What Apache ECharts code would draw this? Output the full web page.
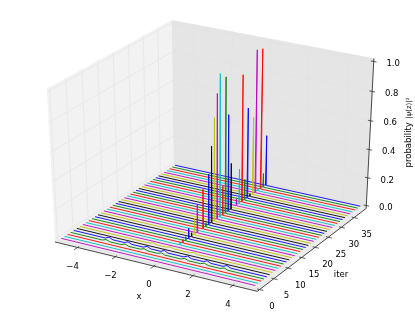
<!DOCTYPE html>
<html><head><meta charset="utf-8">
<style>html,body{margin:0;padding:0;background:#fff}#c{width:415px;height:313px}</style>
<script src="https://cdn.jsdelivr.net/npm/echarts@6/dist/echarts.min.js"></script>
</head><body><div id="c"></div>
<script>
// ---- data ----
const iters = [0,1,2,3,4,5,6,7,8,9,10,11,12,13,14,15,16,17,18,19,20,21,22,23,24,25,26,27,28,29,30,31,32,33,34,35,36,37,38,39];
const peakHeights = [0,0,0,0,0,0,0,0.01,0.02,0.025,0.03,0.075,0.03,0.12,0.2,0.01,0.28,0.03,0.36,0.54,0.72,0.87,0.99,0.21,0.945,0.68,0.33,0.01,0.05,0.25,0.89,0.15,0.64,0.02,0.55,1.0,0.02,0.985,0.1,0.36];
const bumpX = [-3.3,-3.1,-2.9,-2.3,-2.1,-1.9,-1.3,-1.1,-0.9,-0.4,-0.2,0.8,1.0,1.2,1.8,2.0,2.2,2.8,3.0,3.2];
const bumpsIter3 = [0,0.01,0,0,0.01,0,0,0.01,0,0,0.01,0,0.01,0,0,0.01,0,0,0.01,0];
const bumpsIter4 = [0,0.012,0,0,0.012,0,0,0.012,0,0,0.012,0,0.012,0,0,0.012,0,0,0.012,0];
const bumpsIter6 = [0,0,0,0,0,0,0,0.008,0,0,0.008,0,0.008,0,0,0,0,0,0,0];
const xTicks = [-4,-2,0,2,4];
const iterTicks = [0,5,10,15,20,25,30,35];
const probTicks = [0,0.2,0.4,0.6,0.8,1.0];
const lineColors = ['#0000ff','#008000','#ff0000','#00bfbf','#bf00bf','#bfbf00','#000000'];
const xEnds = [-5,5];
const spikeFoot = [-0.02,0,0.02];

// ---- mplot3d style projection (elev 30, azim -60, dist 10) ----
const xLim = [-5.208,5.208], yLim = [-0.8125,39.8125], zLim = [-0.0208,1.0208];
const S = {sx:2334, sy:1750, cx:213, cy:151};
function project(x,y,z){
  const qx=(x-xLim[0])/(xLim[1]-xLim[0])-0.5, qy=(y-yLim[0])/(yLim[1]-yLim[0])-0.5, qz=(z-zLim[0])/(zLim[1]-zLim[0])-0.5;
  const xv=0.8660254*qx+0.5*qy, yv=-0.25*qx+0.4330127*qy+0.8660254*qz;
  const d=10-(0.4330127*qx-0.75*qy+0.5*qz);
  return [S.cx+S.sx*xv/d, S.cy-S.sy*yv/d];
}
const [x0,x1]=xLim,[y0,y1]=yLim,[z0,z1]=zLim;

// Walls, grid, ticks and texts
const panes=[
 {fill:'#f2f2f2',pts:[[x0,y0,z0],[x0,y1,z0],[x0,y1,z1],[x0,y0,z1]]},
 {fill:'#e5e5e5',pts:[[x0,y1,z0],[x1,y1,z0],[x1,y1,z1],[x0,y1,z1]]},
 {fill:'#ececec',pts:[[x0,y0,z0],[x1,y0,z0],[x1,y1,z0],[x0,y1,z0]]}
];
const segs=[];
const GRID='#e8e8e8';
iterTicks.forEach(t=>{segs.push({a:[x0,t,z0],b:[x0,t,z1],c:GRID,w:1});segs.push({a:[x0,t,z0],b:[x1,t,z0],c:'#e6e6e6',w:1});});
xTicks.forEach(t=>{segs.push({a:[t,y0,z0],b:[t,y1,z0],c:'#e6e6e6',w:1});segs.push({a:[t,y1,z0],b:[t,y1,z1],c:'#e3e3e3',w:1});});
probTicks.forEach(t=>{segs.push({a:[x0,y0,t],b:[x0,y1,t],c:GRID,w:1});segs.push({a:[x0,y1,t],b:[x1,y1,t],c:'#e3e3e3',w:1});});
const AX='#333333';
segs.push({a:[x0,y0,z0],b:[x1,y0,z0],c:AX,w:0.9});
segs.push({a:[x1,y0,z0],b:[x1,y1,z0],c:AX,w:0.9});
segs.push({a:[x1,y1,z0],b:[x1,y1,z1],c:AX,w:0.9});
xTicks.forEach(t=>segs.push({a:[t,y0+0.5,z0],b:[t,y0-1.1,z0],c:AX,w:0.8}));
iterTicks.forEach(t=>segs.push({a:[x1-0.12,t,z0],b:[x1+0.18,t,z0],c:AX,w:0.8}));
probTicks.forEach(t=>segs.push({a:[x1-0.14,y1,t],b:[x1+0.14,y1,t],c:AX,w:0.8}));

const FONT='8.5px "DejaVu Sans"';
const texts=[];
function fmtX(t){return t<0?'\u2212'+(-t):String(t);}
xTicks.forEach(t=>{const p=project(t,y0,z0);texts.push({x:p[0]-5,y:p[1]+19,t:fmtX(t)});});
iterTicks.forEach(t=>{const p=project(x1,t,z0);texts.push({x:p[0]+12.5,y:p[1]+17.5,t:String(t)});});
probTicks.forEach(t=>{const p=project(x1,y1,t);texts.push({x:p[0]+19.5,y:p[1]+2.5,t:t.toFixed(1)});});
texts.push({x:139,y:297,t:'x'});
texts.push({x:341,y:275,t:'iter'});

function backdrop(params,api){
  const c=[];
  panes.forEach(o=>c.push({type:'polygon',silent:true,shape:{points:o.pts.map(p=>project(p[0],p[1],p[2]))},style:{fill:o.fill}}));
  segs.forEach(s=>{const a=project(...s.a),b=project(...s.b);
    c.push({type:'line',silent:true,shape:{x1:a[0],y1:a[1],x2:b[0],y2:b[1]},style:{stroke:s.c,lineWidth:s.w}});});
  texts.forEach(t=>c.push({type:'text',silent:true,style:{x:t.x,y:t.y,text:t.t,font:FONT,fill:'#000',align:'center',verticalAlign:'middle'}}));
  c.push({type:'text',silent:true,x:409,y:132.5,rotation:Math.PI/2,style:{x:0,y:0,text:'{a|probability} {b|\u007c\u03c8(z)\u007c\u00b2}',align:'center',verticalAlign:'middle',
    rich:{a:{font:FONT,fill:'#000'},b:{font:'7px "DejaVu Sans"',fill:'#000'}}}});
  return {type:'group',children:c};
}

function linePoints(iter){
  const pts=[];
  const bumps=iter===3?bumpsIter3:iter===4?bumpsIter4:iter===6?bumpsIter6:null;
  pts.push([xEnds[0],0]);
  if(bumps) bumpX.forEach((x,i)=>{if(x<0)pts.push([x,bumps[i]]);});
  pts.push([spikeFoot[0],0]);pts.push([spikeFoot[1],peakHeights[iter]]);pts.push([spikeFoot[2],0]);
  if(bumps) bumpX.forEach((x,i)=>{if(x>0)pts.push([x,bumps[i]]);});
  pts.push([xEnds[1],0]);
  return pts.map(p=>project(p[0],iter,p[1]));
}

const series=[{type:'custom',renderItem:backdrop,data:[[0,0]],silent:true,clip:false,z:1}];
iters.slice().reverse().forEach((iter,i)=>{
  series.push({type:'line',name:'iter '+iter,data:linePoints(iter),showSymbol:false,symbol:'none',silent:true,clip:false,z:2,
    lineStyle:{color:lineColors[i%7],width:0.9,join:'bevel'},animation:false});
});

const chart=echarts.init(document.getElementById('c'),null,{renderer:'canvas'});
chart.setOption({animation:false,backgroundColor:'#fff',
  grid:{left:0,right:0,top:0,bottom:0},
  xAxis:{type:'value',min:0,max:415,show:false},
  yAxis:{type:'value',min:0,max:313,inverse:true,show:false},
  tooltip:{show:false},legend:{show:false},
  series});
</script></body></html>
